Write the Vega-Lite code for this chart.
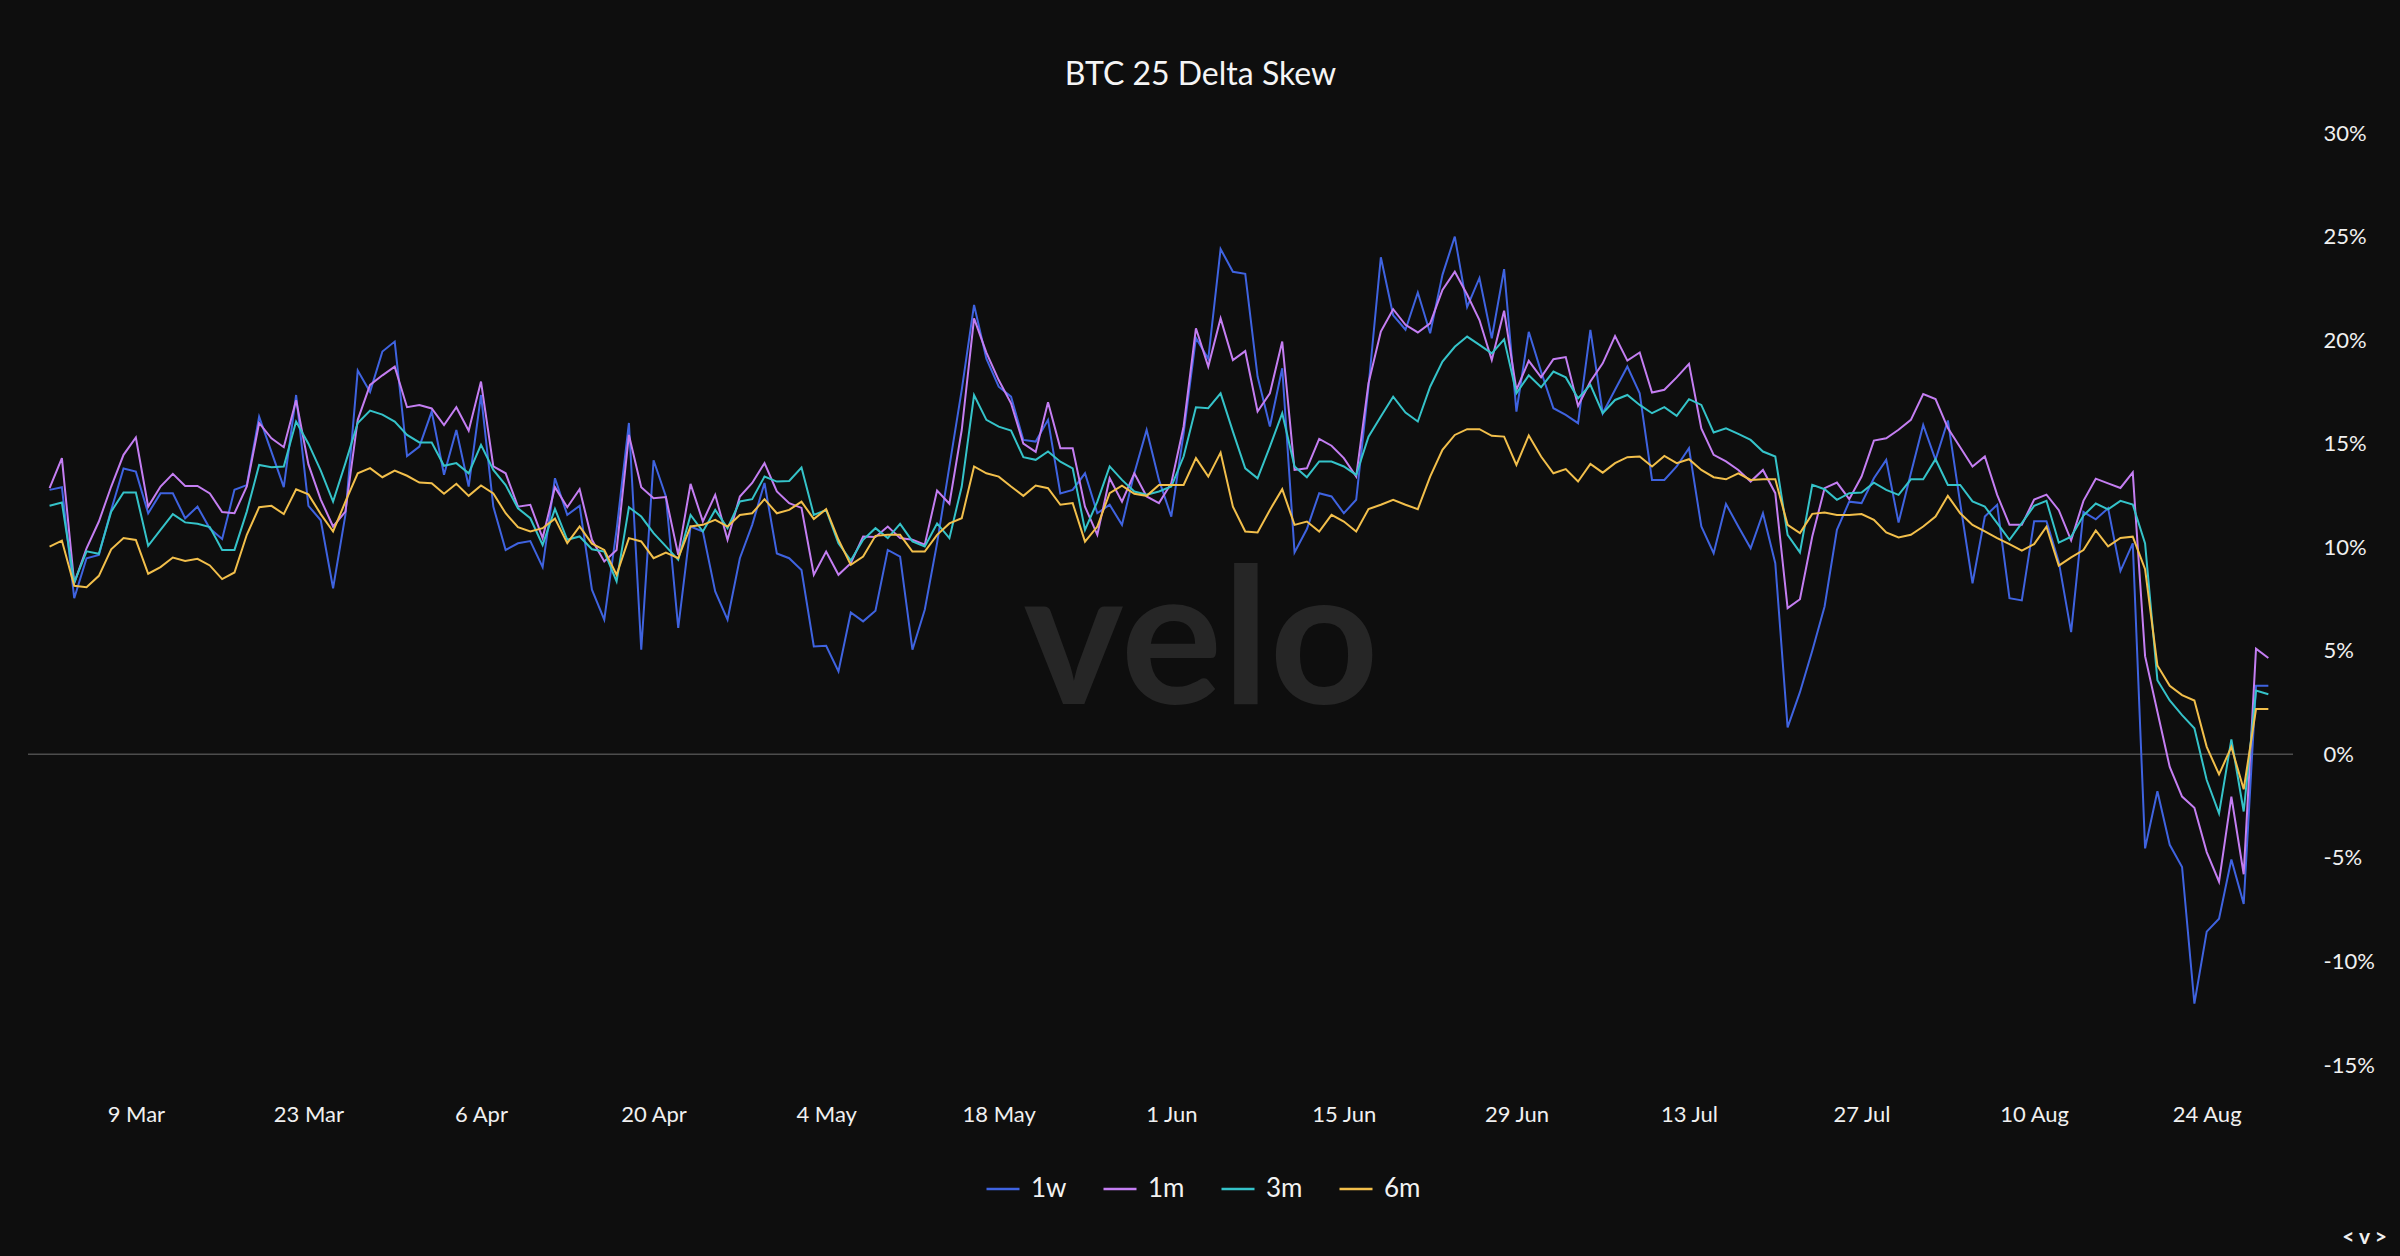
{
  "$schema": "https://vega.github.io/schema/vega-lite/v6.json",
  "width": 2265,
  "height": 932,
  "autosize": "none",
  "padding": {"left": 28, "top": 133, "right": 107, "bottom": 191},
  "background": "#0e0e0e",
  "title": {
    "text": "BTC 25 Delta Skew",
    "font": "Lato",
    "fontSize": 32,
    "fontWeight": "normal",
    "color": "#f5f5f5",
    "anchor": "middle",
    "dx": 40,
    "offset": 30
  },
  "config": {
    "view": {"stroke": null},
    "axis": {"grid": false, "domain": false, "ticks": false, "labelFont": "Lato", "labelFontSize": 22, "labelColor": "#f0f0f0"},
    "axisX": {"labelPadding": 39, "labelFlush": false, "labelOverlap": false},
    "axisY": {"labelAlign": "left", "labelPadding": 30}
  },
  "layer": [
    {
      "data": {"values": [{}]},
      "mark": {"type": "rule", "color": "#4d4d4d", "strokeWidth": 1.5},
      "encoding": {
        "y": {"datum": 0, "type": "quantitative", "scale": {"domain": [-15, 30], "nice": false, "zero": false},
              "axis": {"orient": "right", "values": [-15, -10, -5, 0, 5, 10, 15, 20, 25, 30], "labelExpr": "datum.value + '%'", "title": null}}
      }
    },
    {
      "data": {"values": [{}]},
      "mark": {"type": "text", "text": "velo", "font": "Lato", "fontSize": 190, "fontWeight": "bold", "color": "#262626", "align": "center", "baseline": "alphabetic"},
      "encoding": {
        "x": {"datum": {"year": 2025, "month": 6, "date": 3, "hours": 10, "utc": true}, "type": "temporal",
              "scale": {"type": "utc", "domain": [{"year": 2025, "month": 2, "date": 28, "hours": 6, "utc": true}, {"year": 2025, "month": 8, "date": 31, "utc": true}]},
              "axis": {
                "values": [
                  {"year": 2025, "month": 3, "date": 9, "utc": true},
                  {"year": 2025, "month": 3, "date": 23, "utc": true},
                  {"year": 2025, "month": 4, "date": 6, "utc": true},
                  {"year": 2025, "month": 4, "date": 20, "utc": true},
                  {"year": 2025, "month": 5, "date": 4, "utc": true},
                  {"year": 2025, "month": 5, "date": 18, "utc": true},
                  {"year": 2025, "month": 6, "date": 1, "utc": true},
                  {"year": 2025, "month": 6, "date": 15, "utc": true},
                  {"year": 2025, "month": 6, "date": 29, "utc": true},
                  {"year": 2025, "month": 7, "date": 13, "utc": true},
                  {"year": 2025, "month": 7, "date": 27, "utc": true},
                  {"year": 2025, "month": 8, "date": 10, "utc": true},
                  {"year": 2025, "month": 8, "date": 24, "utc": true}
                ],
                "format": "%-d %b",
                "title": "< v >", "titleX": 2336, "titleY": 172, "titleAlign": "center", "titleBaseline": "middle",
                "titleFont": "Lato", "titleFontSize": 21, "titleFontWeight": "bold", "titleColor": "#f0f0f0"
              }},
        "y": {"datum": 2.44, "type": "quantitative", "scale": {"domain": [-15, 30], "nice": false, "zero": false},
              "axis": {"orient": "right", "values": [-15, -10, -5, 0, 5, 10, 15, 20, 25, 30], "labelExpr": "datum.value + '%'", "title": null}}
      }
    },
    {
      "data": {"values": [
        {"d":"2025-03-02","1w":12.77,"1m":12.85,"3m":12.0,"6m":10.03},
        {"d":"2025-03-03","1w":12.9,"1m":14.3,"3m":12.16,"6m":10.32},
        {"d":"2025-03-04","1w":7.54,"1m":8.27,"3m":8.3,"6m":8.14},
        {"d":"2025-03-05","1w":9.47,"1m":9.95,"3m":9.8,"6m":8.07},
        {"d":"2025-03-06","1w":9.63,"1m":11.24,"3m":9.68,"6m":8.62},
        {"d":"2025-03-07","1w":11.8,"1m":12.93,"3m":11.72,"6m":9.9},
        {"d":"2025-03-08","1w":13.8,"1m":14.46,"3m":12.64,"6m":10.44},
        {"d":"2025-03-09","1w":13.65,"1m":15.3,"3m":12.64,"6m":10.35},
        {"d":"2025-03-10","1w":11.64,"1m":11.96,"3m":10.07,"6m":8.72},
        {"d":"2025-03-11","1w":12.6,"1m":12.93,"3m":10.84,"6m":9.04},
        {"d":"2025-03-12","1w":12.6,"1m":13.54,"3m":11.6,"6m":9.5},
        {"d":"2025-03-13","1w":11.4,"1m":12.96,"3m":11.2,"6m":9.34},
        {"d":"2025-03-14","1w":11.96,"1m":12.96,"3m":11.13,"6m":9.44},
        {"d":"2025-03-15","1w":10.9,"1m":12.6,"3m":10.97,"6m":9.12},
        {"d":"2025-03-16","1w":10.4,"1m":11.7,"3m":9.87,"6m":8.46},
        {"d":"2025-03-17","1w":12.77,"1m":11.64,"3m":9.87,"6m":8.78},
        {"d":"2025-03-18","1w":13.0,"1m":12.93,"3m":11.72,"6m":10.6},
        {"d":"2025-03-19","1w":16.3,"1m":16.0,"3m":13.97,"6m":11.93},
        {"d":"2025-03-20","1w":14.6,"1m":15.26,"3m":13.86,"6m":12.0},
        {"d":"2025-03-21","1w":12.9,"1m":14.83,"3m":13.9,"6m":11.6},
        {"d":"2025-03-22","1w":17.35,"1m":17.1,"3m":16.07,"6m":12.8},
        {"d":"2025-03-23","1w":12.0,"1m":14.0,"3m":15.0,"6m":12.55},
        {"d":"2025-03-24","1w":11.3,"1m":12.3,"3m":13.7,"6m":11.6},
        {"d":"2025-03-25","1w":8.02,"1m":11.0,"3m":12.2,"6m":10.76},
        {"d":"2025-03-26","1w":11.56,"1m":11.72,"3m":14.06,"6m":12.2},
        {"d":"2025-03-27","1w":18.53,"1m":16.15,"3m":16.0,"6m":13.57},
        {"d":"2025-03-28","1w":17.5,"1m":17.84,"3m":16.6,"6m":13.82},
        {"d":"2025-03-29","1w":19.45,"1m":18.3,"3m":16.4,"6m":13.38},
        {"d":"2025-03-30","1w":19.93,"1m":18.72,"3m":16.07,"6m":13.7},
        {"d":"2025-03-31","1w":14.4,"1m":16.76,"3m":15.42,"6m":13.45},
        {"d":"2025-04-01","1w":14.86,"1m":16.87,"3m":15.06,"6m":13.12},
        {"d":"2025-04-02","1w":16.55,"1m":16.7,"3m":15.06,"6m":13.09},
        {"d":"2025-04-03","1w":13.5,"1m":15.9,"3m":13.93,"6m":12.58},
        {"d":"2025-04-04","1w":15.66,"1m":16.76,"3m":14.06,"6m":13.06},
        {"d":"2025-04-05","1w":12.93,"1m":15.62,"3m":13.57,"6m":12.48},
        {"d":"2025-04-06","1w":17.35,"1m":18.0,"3m":14.94,"6m":12.98},
        {"d":"2025-04-07","1w":11.96,"1m":13.9,"3m":13.73,"6m":12.6},
        {"d":"2025-04-08","1w":9.87,"1m":13.57,"3m":13.0,"6m":11.64},
        {"d":"2025-04-09","1w":10.19,"1m":11.96,"3m":11.88,"6m":10.97},
        {"d":"2025-04-10","1w":10.3,"1m":12.05,"3m":11.4,"6m":10.76},
        {"d":"2025-04-11","1w":9.04,"1m":10.44,"3m":10.11,"6m":10.92},
        {"d":"2025-04-12","1w":13.33,"1m":12.9,"3m":11.85,"6m":11.38},
        {"d":"2025-04-13","1w":11.56,"1m":11.93,"3m":10.36,"6m":10.2},
        {"d":"2025-04-14","1w":12.0,"1m":12.8,"3m":10.52,"6m":11.0},
        {"d":"2025-04-15","1w":7.95,"1m":10.36,"3m":9.9,"6m":10.17},
        {"d":"2025-04-16","1w":6.5,"1m":9.31,"3m":9.79,"6m":9.87},
        {"d":"2025-04-17","1w":10.84,"1m":9.87,"3m":8.35,"6m":8.67},
        {"d":"2025-04-18","1w":16.0,"1m":15.42,"3m":11.93,"6m":10.44},
        {"d":"2025-04-19","1w":5.05,"1m":12.9,"3m":11.48,"6m":10.28},
        {"d":"2025-04-20","1w":14.2,"1m":12.37,"3m":10.68,"6m":9.47},
        {"d":"2025-04-21","1w":12.45,"1m":12.42,"3m":10.04,"6m":9.74},
        {"d":"2025-04-22","1w":6.1,"1m":9.63,"3m":9.39,"6m":9.47},
        {"d":"2025-04-23","1w":11.0,"1m":13.06,"3m":11.56,"6m":11.0},
        {"d":"2025-04-24","1w":10.76,"1m":11.24,"3m":10.76,"6m":11.08},
        {"d":"2025-04-25","1w":7.87,"1m":12.53,"3m":11.8,"6m":11.32},
        {"d":"2025-04-26","1w":6.5,"1m":10.36,"3m":10.92,"6m":11.0},
        {"d":"2025-04-27","1w":9.47,"1m":12.45,"3m":12.21,"6m":11.56},
        {"d":"2025-04-28","1w":11.08,"1m":13.1,"3m":12.32,"6m":11.64},
        {"d":"2025-04-29","1w":13.1,"1m":14.06,"3m":13.41,"6m":12.32},
        {"d":"2025-04-30","1w":9.7,"1m":12.69,"3m":13.17,"6m":11.64},
        {"d":"2025-05-01","1w":9.47,"1m":12.13,"3m":13.2,"6m":11.8},
        {"d":"2025-05-02","1w":8.9,"1m":11.9,"3m":13.85,"6m":12.2},
        {"d":"2025-05-03","1w":5.21,"1m":8.67,"3m":11.56,"6m":11.36},
        {"d":"2025-05-04","1w":5.24,"1m":9.79,"3m":11.8,"6m":11.84},
        {"d":"2025-05-05","1w":4.0,"1m":8.67,"3m":10.19,"6m":10.36},
        {"d":"2025-05-06","1w":6.85,"1m":9.23,"3m":9.36,"6m":9.15},
        {"d":"2025-05-07","1w":6.42,"1m":10.52,"3m":10.36,"6m":9.55},
        {"d":"2025-05-08","1w":6.93,"1m":10.49,"3m":10.92,"6m":10.55},
        {"d":"2025-05-09","1w":9.87,"1m":11.0,"3m":10.44,"6m":10.6},
        {"d":"2025-05-10","1w":9.55,"1m":10.44,"3m":11.13,"6m":10.6},
        {"d":"2025-05-11","1w":5.05,"1m":10.36,"3m":10.28,"6m":9.79},
        {"d":"2025-05-12","1w":6.98,"1m":10.12,"3m":10.04,"6m":9.79},
        {"d":"2025-05-13","1w":10.2,"1m":12.74,"3m":11.15,"6m":10.6},
        {"d":"2025-05-14","1w":13.9,"1m":12.1,"3m":10.44,"6m":11.15},
        {"d":"2025-05-15","1w":17.6,"1m":15.66,"3m":12.93,"6m":11.4},
        {"d":"2025-05-16","1w":21.7,"1m":21.05,"3m":17.35,"6m":13.9},
        {"d":"2025-05-17","1w":19.1,"1m":19.4,"3m":16.15,"6m":13.57},
        {"d":"2025-05-18","1w":17.75,"1m":18.07,"3m":15.82,"6m":13.41},
        {"d":"2025-05-19","1w":17.27,"1m":16.95,"3m":15.63,"6m":12.93},
        {"d":"2025-05-20","1w":15.18,"1m":15.0,"3m":14.35,"6m":12.48},
        {"d":"2025-05-21","1w":15.1,"1m":14.6,"3m":14.22,"6m":12.98},
        {"d":"2025-05-22","1w":16.15,"1m":17.0,"3m":14.62,"6m":12.85},
        {"d":"2025-05-23","1w":12.6,"1m":14.78,"3m":14.13,"6m":12.05},
        {"d":"2025-05-24","1w":12.77,"1m":14.78,"3m":13.81,"6m":12.13},
        {"d":"2025-05-25","1w":13.57,"1m":11.96,"3m":10.84,"6m":10.27},
        {"d":"2025-05-26","1w":11.64,"1m":10.6,"3m":12.2,"6m":11.0},
        {"d":"2025-05-27","1w":12.05,"1m":13.33,"3m":13.9,"6m":12.61},
        {"d":"2025-05-28","1w":11.08,"1m":12.2,"3m":13.25,"6m":12.97},
        {"d":"2025-05-29","1w":13.57,"1m":13.57,"3m":12.69,"6m":12.58},
        {"d":"2025-05-30","1w":15.66,"1m":12.45,"3m":12.53,"6m":12.48},
        {"d":"2025-05-31","1w":13.25,"1m":12.13,"3m":12.69,"6m":13.01},
        {"d":"2025-06-01","1w":11.48,"1m":13.09,"3m":12.93,"6m":13.01},
        {"d":"2025-06-02","1w":15.5,"1m":15.83,"3m":14.38,"6m":13.01},
        {"d":"2025-06-03","1w":20.1,"1m":20.57,"3m":16.76,"6m":14.3},
        {"d":"2025-06-04","1w":19.1,"1m":18.72,"3m":16.71,"6m":13.41},
        {"d":"2025-06-05","1w":24.4,"1m":21.05,"3m":17.43,"6m":14.57},
        {"d":"2025-06-06","1w":23.3,"1m":19.04,"3m":15.58,"6m":11.96},
        {"d":"2025-06-07","1w":23.2,"1m":19.47,"3m":13.81,"6m":10.76},
        {"d":"2025-06-08","1w":18.24,"1m":16.55,"3m":13.33,"6m":10.71},
        {"d":"2025-06-09","1w":15.83,"1m":17.43,"3m":14.86,"6m":11.8},
        {"d":"2025-06-10","1w":18.64,"1m":19.93,"3m":16.47,"6m":12.8},
        {"d":"2025-06-11","1w":9.75,"1m":13.73,"3m":13.9,"6m":11.08},
        {"d":"2025-06-12","1w":10.88,"1m":13.81,"3m":13.38,"6m":11.24},
        {"d":"2025-06-13","1w":12.61,"1m":15.23,"3m":14.14,"6m":10.76},
        {"d":"2025-06-14","1w":12.45,"1m":14.9,"3m":14.14,"6m":11.56},
        {"d":"2025-06-15","1w":11.64,"1m":14.3,"3m":13.9,"6m":11.24},
        {"d":"2025-06-16","1w":12.29,"1m":13.41,"3m":13.49,"6m":10.76},
        {"d":"2025-06-17","1w":17.76,"1m":17.92,"3m":15.34,"6m":11.84},
        {"d":"2025-06-18","1w":24.0,"1m":20.41,"3m":16.31,"6m":12.05},
        {"d":"2025-06-19","1w":21.2,"1m":21.49,"3m":17.27,"6m":12.29},
        {"d":"2025-06-20","1w":20.5,"1m":20.74,"3m":16.5,"6m":12.05},
        {"d":"2025-06-21","1w":22.3,"1m":20.37,"3m":16.07,"6m":11.84},
        {"d":"2025-06-22","1w":20.33,"1m":20.81,"3m":17.75,"6m":13.41},
        {"d":"2025-06-23","1w":23.15,"1m":22.42,"3m":18.96,"6m":14.7},
        {"d":"2025-06-24","1w":25.0,"1m":23.3,"3m":19.68,"6m":15.42},
        {"d":"2025-06-25","1w":21.6,"1m":22.2,"3m":20.17,"6m":15.7},
        {"d":"2025-06-26","1w":23.0,"1m":20.97,"3m":19.77,"6m":15.7},
        {"d":"2025-06-27","1w":20.09,"1m":19.04,"3m":19.36,"6m":15.38},
        {"d":"2025-06-28","1w":23.43,"1m":21.42,"3m":20.04,"6m":15.34},
        {"d":"2025-06-29","1w":16.55,"1m":17.6,"3m":17.43,"6m":13.97},
        {"d":"2025-06-30","1w":20.4,"1m":19.0,"3m":18.3,"6m":15.4},
        {"d":"2025-07-01","1w":18.48,"1m":18.2,"3m":17.72,"6m":14.38},
        {"d":"2025-07-02","1w":16.71,"1m":19.08,"3m":18.48,"6m":13.57},
        {"d":"2025-07-03","1w":16.39,"1m":19.18,"3m":18.2,"6m":13.77},
        {"d":"2025-07-04","1w":15.99,"1m":16.82,"3m":17.19,"6m":13.17},
        {"d":"2025-07-05","1w":20.49,"1m":18.0,"3m":17.84,"6m":14.02},
        {"d":"2025-07-06","1w":16.47,"1m":18.88,"3m":16.47,"6m":13.6},
        {"d":"2025-07-07","1w":17.6,"1m":20.2,"3m":17.11,"6m":14.06},
        {"d":"2025-07-08","1w":18.72,"1m":19.01,"3m":17.35,"6m":14.35},
        {"d":"2025-07-09","1w":17.43,"1m":19.4,"3m":16.87,"6m":14.38},
        {"d":"2025-07-10","1w":13.25,"1m":17.47,"3m":16.47,"6m":13.9},
        {"d":"2025-07-11","1w":13.25,"1m":17.6,"3m":16.76,"6m":14.41},
        {"d":"2025-07-12","1w":13.9,"1m":18.2,"3m":16.34,"6m":14.06},
        {"d":"2025-07-13","1w":14.78,"1m":18.85,"3m":17.15,"6m":14.25},
        {"d":"2025-07-14","1w":11.0,"1m":15.74,"3m":16.87,"6m":13.73},
        {"d":"2025-07-15","1w":9.71,"1m":14.46,"3m":15.54,"6m":13.38},
        {"d":"2025-07-16","1w":12.09,"1m":14.14,"3m":15.74,"6m":13.28},
        {"d":"2025-07-17","1w":11.0,"1m":13.73,"3m":15.47,"6m":13.57},
        {"d":"2025-07-18","1w":9.95,"1m":13.17,"3m":15.18,"6m":13.25},
        {"d":"2025-07-19","1w":11.64,"1m":13.73,"3m":14.62,"6m":13.28},
        {"d":"2025-07-20","1w":9.23,"1m":12.61,"3m":14.38,"6m":13.28},
        {"d":"2025-07-21","1w":1.3,"1m":7.06,"3m":10.6,"6m":11.08},
        {"d":"2025-07-22","1w":3.0,"1m":7.49,"3m":9.75,"6m":10.68},
        {"d":"2025-07-23","1w":5.0,"1m":10.52,"3m":13.01,"6m":11.61},
        {"d":"2025-07-24","1w":7.14,"1m":12.85,"3m":12.8,"6m":11.68},
        {"d":"2025-07-25","1w":10.84,"1m":13.12,"3m":12.29,"6m":11.56},
        {"d":"2025-07-26","1w":12.2,"1m":12.32,"3m":12.61,"6m":11.56},
        {"d":"2025-07-27","1w":12.13,"1m":13.41,"3m":12.64,"6m":11.6},
        {"d":"2025-07-28","1w":13.33,"1m":15.15,"3m":13.12,"6m":11.32},
        {"d":"2025-07-29","1w":14.22,"1m":15.26,"3m":12.77,"6m":10.71},
        {"d":"2025-07-30","1w":11.19,"1m":15.67,"3m":12.53,"6m":10.47},
        {"d":"2025-07-31","1w":13.57,"1m":16.15,"3m":13.28,"6m":10.6},
        {"d":"2025-08-01","1w":15.9,"1m":17.4,"3m":13.28,"6m":11.0},
        {"d":"2025-08-02","1w":14.22,"1m":17.15,"3m":14.25,"6m":11.48},
        {"d":"2025-08-03","1w":16.12,"1m":15.75,"3m":13.01,"6m":12.48},
        {"d":"2025-08-04","1w":12.13,"1m":14.83,"3m":13.01,"6m":11.64},
        {"d":"2025-08-05","1w":8.26,"1m":13.9,"3m":12.21,"6m":11.08},
        {"d":"2025-08-06","1w":11.48,"1m":14.38,"3m":11.96,"6m":10.76},
        {"d":"2025-08-07","1w":12.05,"1m":12.53,"3m":11.16,"6m":10.44},
        {"d":"2025-08-08","1w":7.54,"1m":11.08,"3m":10.36,"6m":10.15},
        {"d":"2025-08-09","1w":7.43,"1m":11.08,"3m":11.16,"6m":9.84},
        {"d":"2025-08-10","1w":11.26,"1m":12.3,"3m":12.0,"6m":10.15},
        {"d":"2025-08-11","1w":11.26,"1m":12.54,"3m":12.24,"6m":10.99},
        {"d":"2025-08-12","1w":9.29,"1m":11.79,"3m":10.22,"6m":9.11},
        {"d":"2025-08-13","1w":5.9,"1m":10.33,"3m":10.51,"6m":9.51},
        {"d":"2025-08-14","1w":11.7,"1m":12.24,"3m":11.53,"6m":9.86},
        {"d":"2025-08-15","1w":11.35,"1m":13.31,"3m":12.11,"6m":10.81},
        {"d":"2025-08-16","1w":11.88,"1m":13.08,"3m":11.83,"6m":10.04},
        {"d":"2025-08-17","1w":8.85,"1m":12.86,"3m":12.24,"6m":10.45},
        {"d":"2025-08-18","1w":10.19,"1m":13.61,"3m":12.06,"6m":10.51},
        {"d":"2025-08-19","1w":-4.54,"1m":4.74,"3m":10.18,"6m":8.94},
        {"d":"2025-08-20","1w":-1.78,"1m":2.06,"3m":3.58,"6m":4.29},
        {"d":"2025-08-21","1w":-4.37,"1m":-0.61,"3m":2.6,"6m":3.31},
        {"d":"2025-08-22","1w":-5.44,"1m":-2.04,"3m":1.89,"6m":2.86},
        {"d":"2025-08-23","1w":-12.04,"1m":-2.58,"3m":1.26,"6m":2.6},
        {"d":"2025-08-24","1w":-8.56,"1m":-4.72,"3m":-1.24,"6m":0.36},
        {"d":"2025-08-25","1w":-7.94,"1m":-6.15,"3m":-2.85,"6m":-0.97},
        {"d":"2025-08-26","1w":-5.08,"1m":-2.04,"3m":0.72,"6m":0.36},
        {"d":"2025-08-27","1w":-7.22,"1m":-5.79,"3m":-2.76,"6m":-1.69},
        {"d":"2025-08-28","1w":3.31,"1m":5.1,"3m":3.08,"6m":2.19},
        {"d":"2025-08-29","1w":3.31,"1m":4.65,"3m":2.9,"6m":2.19}
      ]},
      "transform": [{"fold": ["1w", "1m", "3m", "6m"], "as": ["tenor", "skew"]}],
      "mark": {"type": "line", "strokeWidth": 2},
      "encoding": {
        "x": {
          "field": "d", "type": "temporal",
          "scale": {"type": "utc", "domain": [{"year": 2025, "month": 2, "date": 28, "hours": 6, "utc": true}, {"year": 2025, "month": 8, "date": 31, "utc": true}]},
          "axis": {
            "values": [
              {"year": 2025, "month": 3, "date": 9, "utc": true},
              {"year": 2025, "month": 3, "date": 23, "utc": true},
              {"year": 2025, "month": 4, "date": 6, "utc": true},
              {"year": 2025, "month": 4, "date": 20, "utc": true},
              {"year": 2025, "month": 5, "date": 4, "utc": true},
              {"year": 2025, "month": 5, "date": 18, "utc": true},
              {"year": 2025, "month": 6, "date": 1, "utc": true},
              {"year": 2025, "month": 6, "date": 15, "utc": true},
              {"year": 2025, "month": 6, "date": 29, "utc": true},
              {"year": 2025, "month": 7, "date": 13, "utc": true},
              {"year": 2025, "month": 7, "date": 27, "utc": true},
              {"year": 2025, "month": 8, "date": 10, "utc": true},
              {"year": 2025, "month": 8, "date": 24, "utc": true}
            ],
            "format": "%-d %b",
            "title": "< v >", "titleX": 2336, "titleY": 172, "titleAlign": "center", "titleBaseline": "middle",
            "titleFont": "Lato", "titleFontSize": 21, "titleFontWeight": "bold", "titleColor": "#f0f0f0"
          }
        },
        "y": {
          "field": "skew", "type": "quantitative",
          "scale": {"domain": [-15, 30], "nice": false, "zero": false},
          "axis": {"orient": "right", "values": [-15, -10, -5, 0, 5, 10, 15, 20, 25, 30], "labelExpr": "datum.value + '%'", "title": null}
        },
        "color": {
          "field": "tenor", "type": "nominal",
          "scale": {"domain": ["1w", "1m", "3m", "6m"], "range": ["#3f63e0", "#c47ef2", "#35c3c9", "#f2bf4b"]},
          "legend": {
            "title": null,
            "orient": "none",
            "legendX": 957,
            "legendY": 1038,
            "direction": "horizontal",
            "symbolType": "stroke",
            "symbolSize": 1089,
            "symbolStrokeWidth": 2.5,
            "labelFont": "Lato",
            "labelFontSize": 26,
            "labelColor": "#f2f2f2",
            "labelOffset": 10,
            "columnPadding": 31,
            "padding": 0
          }
        }
      }
    }
  ]
}
